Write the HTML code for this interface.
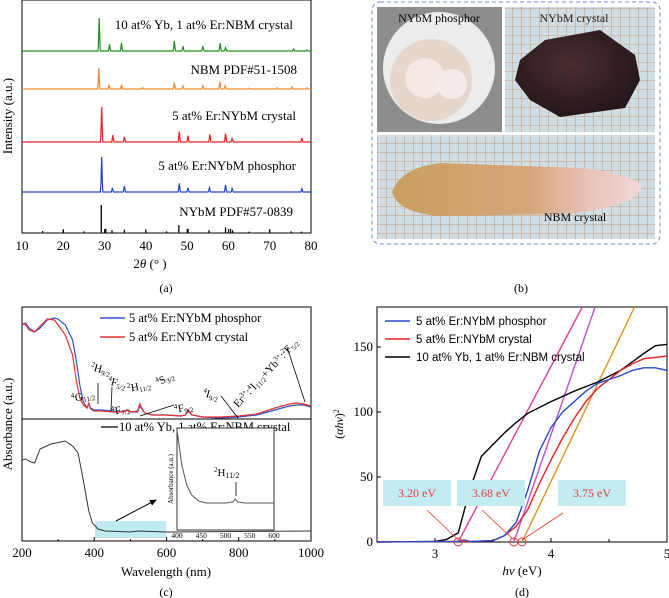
<!DOCTYPE html>
<html><head><meta charset="utf-8">
<style>
body{margin:0;background:#fff;}
svg{display:block;font-family:"Liberation Serif",serif;}
</style></head>
<body>
<svg id="fig" width="669" height="598" viewBox="0 0 669 598" xmlns="http://www.w3.org/2000/svg">
<defs>
<pattern id="grid" width="9" height="9" patternUnits="userSpaceOnUse">
<rect width="9" height="9" fill="#cfdde4"/>
<path d="M9 0V9M0 9H9" stroke="#c9855e" stroke-width="0.8"/>
</pattern>
<radialGradient id="rock" cx="45%" cy="40%" r="60%"><stop offset="0" stop-color="#4a2e30"/><stop offset="1" stop-color="#25161a"/></radialGradient>
<linearGradient id="boule" x1="0" y1="0" x2="1" y2="0"><stop offset="0" stop-color="#c9a060"/><stop offset="0.55" stop-color="#d6a67a"/><stop offset="0.8" stop-color="#e9c4bb"/><stop offset="1" stop-color="#f1d8d6"/></linearGradient>
<marker id="arr" markerWidth="8" markerHeight="8" refX="6" refY="3" orient="auto"><path d="M0,0L7,3L0,6Z" fill="#000"/></marker>
</defs>
<g id="pa"></g>
<g id="pb">
 <rect x="372" y="2" width="288" height="242" rx="8" fill="none" stroke="#6f8fd6" stroke-dasharray="4,3" stroke-width="1"/>
 <rect x="377" y="7" width="125" height="125" fill="#8d8d8d"/>
 <circle cx="439" cy="68" r="56" fill="#ececec"/>
 <circle cx="431" cy="80" r="41" fill="#e6d6cc"/>
 <circle cx="425" cy="78" r="20" fill="#f3e8e4"/>
 <circle cx="452" cy="84" r="15" fill="#f4ebe8"/>
 <rect x="505" y="7" width="150" height="125" fill="url(#grid)"/>
 <path d="M520,60 L545,40 L600,30 L635,55 L640,80 L625,108 L560,117 L530,100 L515,80Z" fill="url(#rock)"/>
 <rect x="377" y="135" width="278" height="104" fill="url(#grid)"/>
 <path d="M392,192 Q400,168 440,163 L580,168 Q620,172 640,183 Q645,190 630,200 Q600,212 560,214 L440,216 Q398,213 392,192Z" fill="url(#boule)"/>
 <text x="439" y="22" font-size="12" text-anchor="middle">NYbM phosphor</text>
 <text x="574" y="22" font-size="12" text-anchor="middle" fill="#222">NYbM crystal</text>
 <text x="575" y="221" font-size="12" text-anchor="middle">NBM crystal</text>
 <text x="521" y="292" font-size="12" text-anchor="middle">(b)</text>
</g>
<g id="pc"></g>
<g id="pd"></g>
</svg>
<script>
// ---------- Panel (a) data ----------
const xrdGreenPos=[28.7,31.2,34.1,46.9,49.0,53.8,58.0,59.3,75.8,79];
const xrdGreenInt=[1,0.2,0.25,0.3,0.15,0.15,0.24,0.1,0.06,0.03];
const xrdOrangePos=[28.6,31.1,34.1,39.2,46.9,49,53.8,57.9,59.2,64.8,71.8,75.4,79];
const xrdOrangeInt=[1,0.2,0.2,0.06,0.3,0.15,0.15,0.35,0.15,0.05,0.06,0.1,0.06];
const xrdRedPos=[29.3,32.0,34.8,48.1,50.2,55.5,59.3,60.9,77.8];
const xrdRedInt=[1,0.2,0.15,0.3,0.18,0.22,0.24,0.1,0.12];
const xrdBluePos=[29.3,31.9,34.8,48.1,50.2,55.4,59.3,60.9,77.8];
const xrdBlueInt=[1,0.12,0.17,0.25,0.12,0.12,0.2,0.1,0.1];
const pdfStickPos=[15,20,25,29.2,30.3,31.8,34.8,40,45,48,50.2,55.3,59.3,60.5,61,65,70,75.2,77.7];
const pdfStickInt=[0.07,0.1,0.06,1,0.15,0.1,0.12,0.08,0.06,0.28,0.15,0.1,0.2,0.15,0.1,0.05,0.1,0.06,0.05];
const aTicks=[10,20,30,40,50,60,70,80];
// ---------- Panel (c) data ----------
const wl=[200,210,220,235,250,270,290,300,320,340,350,360,370,380,385,390,400,420,450,480,490,500,520,526,530,540,560,600,640,652,660,670,700,750,800,850,900,940,960,980,1000];
const absBlue=[95,97,92,88,92,100,102,101,95,80,60,35,18,12,16,12,10,10,9,8,10,8,8,14,12,7,5,5,4,5,9,5,3,2,3,5,10,14,15,15,13];
const absRed=[97,95,90,88,94,101,100,95,85,65,40,22,15,12,17,11,9,9,8,8,10,8,9,16,13,7,5,5,4,5,10,5,3,3,4,6,12,16,17,16,14];
const wlBlack=[200,210,225,235,250,280,320,340,355,365,375,385,395,410,430,500,520,600,1000];
const absBlack=[81,82,79,78,92,97,100,95,88,70,50,30,18,12,10,9,10,9,10];
const insetWl=[400,410,420,430,445,460,500,515,520,525,540,600];
const insetAbs=[100,65,45,35,29,27,27,28,31,28,27,27];
const cTicks=[200,400,600,800,1000];
const insetTicks=[400,450,500,550,600];
// ---------- Panel (d) data ----------
const evBlack=[2.5,3.0,3.1,3.2,3.3,3.4,3.5,3.6,3.7,3.8,4.0,4.2,4.4,4.6,4.8,4.9,5.0];
const tBlack=[0,0.5,2,7,40,66,75,84,92,99,108,116,123,132,145,151,152];
const evBlue=[2.5,3.2,3.25,3.3,3.5,3.6,3.7,3.8,3.9,4.0,4.1,4.2,4.3,4.4,4.5,4.6,4.7,4.8,4.9,5.0];
const tBlue=[0,0.5,1.5,0.5,1,5,15,40,70,88,100,108,116,122,125,128,132,134,134,132];
const evRed=[2.5,3.3,3.5,3.6,3.7,3.8,3.9,4.0,4.1,4.2,4.3,4.4,4.5,4.6,4.7,4.8,4.9,5.0];
const tRed=[0,0.5,1,5,12,25,45,63,80,95,108,118,125,132,137,141,142,143];
const gaps=[3.20,3.68,3.75];
const gapLabels=["3.20 eV","3.68 eV","3.75 eV"];
const tangentTopEv=[4.27,4.38,4.72];
const dXTicks=[3,4,5];
const dYTicks=[0,50,100,150];

const NS="http://www.w3.org/2000/svg";
function mk(parent,tag,attrs,txt){const e=document.createElementNS(NS,tag);for(const k in attrs)e.setAttribute(k,attrs[k]);if(txt!==undefined)e.textContent=txt;parent.appendChild(e);return e;}
function pts(xs,ys,fx,fy){return xs.map((x,i)=>fx(x).toFixed(1)+","+fy(ys[i]).toFixed(1)).join(" ");}

// ===== Panel A =====
const pa=document.getElementById('pa');
const ax=v=>22+(v-10)*(311-22)/70;
mk(pa,'rect',{x:22,y:0,width:289,height:233,fill:'none',stroke:'#000','stroke-width':1});
function xrd(pos,int,base,h,col,name){
  let d=[];
  for(let t=10;t<=80;t+=0.1){let v=0;pos.forEach((p,i)=>{const w=Math.max(0,1-Math.abs(t-p)/0.25);v+=int[i]*w;});d.push(ax(t).toFixed(1)+","+(base-v*h).toFixed(1));}
  const e=mk(pa,'polyline',{points:d.join(" "),fill:'none',stroke:col,'stroke-width':1.2});
  
  
}
xrd(xrdGreenPos,xrdGreenInt,51,33,'#1f8f1f','xrd-nbm-crystal');
xrd(xrdOrangePos,xrdOrangeInt,89,21,'#f08a3a','xrd-nbm-pdf');
xrd(xrdRedPos,xrdRedInt,142,35,'#e82020','xrd-nybm-crystal');
xrd(xrdBluePos,xrdBlueInt,192,35,'#2040c8','xrd-nybm-phosphor');
pdfStickPos.forEach((p,i)=>{const l=mk(pa,'line',{x1:ax(p),x2:ax(p),y1:233,y2:233-pdfStickInt[i]*28,stroke:'#000','stroke-width':1.3});
 
 });
aTicks.forEach(t=>{mk(pa,'line',{x1:ax(t),x2:ax(t),y1:233,y2:229,stroke:'#000'});
 const tx=mk(pa,'text',{x:ax(t),y:250,'font-size':13,'text-anchor':'middle'},t);
 
 });
[["10 at% Yb, 1 at% Er:NBM crystal",29,293],["NBM PDF#51-1508",74,297],["5 at% Er:NYbM crystal",120,296],["5 at% Er:NYbM phosphor",170,296],["NYbM PDF#57-0839",216,293]].forEach(a=>{
 const tx=mk(pa,'text',{x:a[2],y:a[1],'font-size':13,'text-anchor':'end'},a[0]);
 
 });
mk(pa,'text',{x:12,y:116,'font-size':13,'text-anchor':'middle',transform:'rotate(-90 12 116)',},'Intensity (a.u.)');
const at=mk(pa,'text',{x:150,y:268,'font-size':13,'text-anchor':'middle',});
at.innerHTML='2<tspan font-style="italic">θ</tspan> (° )';
mk(pa,'text',{x:166,y:292,'font-size':12,'text-anchor':'middle',},'(a)');

// ===== Panel C =====
const pc=document.getElementById('pc');
const cx=v=>22+(v-200)*(311-22)/800;
mk(pc,'rect',{x:22,y:307,width:289,height:234,fill:'none',stroke:'#000'});
mk(pc,'line',{x1:22,x2:311,y1:419,y2:419,stroke:'#000',});
mk(pc,'rect',{x:95,y:521,width:71,height:17,fill:'#bfeaf0',});
let e;
e=mk(pc,'polyline',{points:pts(wl,absBlue,cx,v=>420-v),fill:'none',stroke:'#3050d0','stroke-width':1.2});


e=mk(pc,'polyline',{points:pts(wl,absRed,cx,v=>420-v),fill:'none',stroke:'#e83030','stroke-width':1.2});


e=mk(pc,'polyline',{points:pts(wlBlack,absBlack,cx,v=>541-v),fill:'none',stroke:'#333','stroke-width':1});


cTicks.forEach(t=>{mk(pc,'line',{x1:cx(t),x2:cx(t),y1:541,y2:537,stroke:'#000'});
 const tx=mk(pc,'text',{x:cx(t),y:557,'font-size':13,'text-anchor':'middle'},t);
 
 });
[300,500,700,900].forEach(t=>mk(pc,'line',{x1:cx(t),x2:cx(t),y1:541,y2:539,stroke:'#000'}));
mk(pc,'text',{x:166,y:576,'font-size':13,'text-anchor':'middle',},'Wavelength (nm)');
mk(pc,'text',{x:166,y:596,'font-size':12,'text-anchor':'middle',},'(c)');
mk(pc,'text',{x:12,y:424,'font-size':13,'text-anchor':'middle',transform:'rotate(-90 12 424)',},'Absorbance (a.u.)');
// legends
mk(pc,'line',{x1:100,x2:125,y1:318,y2:318,stroke:'#3050d0','stroke-width':1.5});
mk(pc,'text',{x:129,y:322,'font-size':12.5,},'5 at% Er:NYbM phosphor');
mk(pc,'line',{x1:100,x2:125,y1:337,y2:337,stroke:'#e83030','stroke-width':1.5});
mk(pc,'text',{x:129,y:341,'font-size':12.5,},'5 at% Er:NYbM crystal');
mk(pc,'line',{x1:101,x2:118,y1:427,y2:427,stroke:'#000','stroke-width':1.2});
mk(pc,'text',{x:119,y:431,'font-size':12.5,},'10 at% Yb, 1 at% Er:NBM crystal');
// annotations
function ann(x,y,html,rot,name){const t=mk(pc,'text',{x:x,y:y,'font-size':11,transform:rot?`rotate(${rot} ${x} ${y})`:''});t.innerHTML=html;
 
 }
const sup=s=>`<tspan dy="-4" font-size="7">${s}</tspan><tspan dy="4">`;
ann(72,402,sup('4')+'G</tspan><tspan font-size="7" dy="2">11/2</tspan>',-10,'ann-4g112');
ann(90,370,sup('2')+'H</tspan><tspan font-size="7" dy="2">9/2</tspan>',15,'ann-2h92');
ann(107,384,sup('4')+'F</tspan><tspan font-size="7" dy="2">5/2</tspan>',15,'ann-4f52');
ann(112,415,sup('4')+'F</tspan><tspan font-size="7" dy="2">7/2</tspan>',-10,'ann-4f72');
ann(128,392,sup('2')+'H</tspan><tspan font-size="7" dy="2">11/2</tspan>',-10,'ann-2h112');
ann(158,386,sup('4')+'S</tspan><tspan font-size="7" dy="2">3/2</tspan>',-25,'ann-4s32');
ann(175,413,sup('4')+'F</tspan><tspan font-size="7" dy="2">9/2</tspan>',-10,'ann-4f92');
ann(202,396,sup('4')+'I</tspan><tspan font-size="7" dy="2">9/2</tspan>',15,'ann-4i92');
ann(238,408,'Er'+sup('3+')+':</tspan>'+sup('4')+'I</tspan><tspan font-size="7" dy="2">11/2</tspan><tspan dy="-2">+Yb</tspan><tspan dy="-4" font-size="7">3+</tspan><tspan dy="4">:</tspan>'+sup('2')+'F</tspan><tspan font-size="7" dy="2">5/2</tspan>',-47,'ann-er-yb');
[[98,383,98,404],[112,387,111,411],[174,405,140,416],[221,396,238,418],[287,347,305,402]].forEach(l=>mk(pc,'line',{x1:l[0],y1:l[1],x2:l[2],y2:l[3],stroke:'#000','stroke-width':0.8}));
mk(pc,'line',{x1:116,y1:521,x2:156,y2:500,stroke:'#000','stroke-width':1,'marker-end':'url(#arr)',});
// inset
const ix=v=>177+(v-400)*(274-177)/200;
mk(pc,'rect',{x:177,y:428,width:97,height:102,fill:'#fff',stroke:'#000','stroke-width':0.8,});
e=mk(pc,'polyline',{points:pts(insetWl,insetAbs,ix,v=>530-v),fill:'none',stroke:'#555','stroke-width':1});


insetTicks.forEach(t=>{mk(pc,'text',{x:ix(t),y:538,'font-size':7.5,'text-anchor':'middle'},t);});
mk(pc,'text',{x:173,y:479,'font-size':7,'text-anchor':'middle',transform:'rotate(-90 173 479)'},'Absorbance (a.u.)');
ann(214,476,sup('2')+'H</tspan><tspan font-size="8" dy="2">11/2</tspan>',0,'inset-ann');
mk(pc,'line',{x1:236,y1:482,x2:236,y2:496,stroke:'#000','stroke-width':0.8});

// ===== Panel D =====
const pd=document.getElementById('pd');
const dx=v=>377+(v-2.5)*116;
const dy=v=>542-v*1.3;
mk(pd,'rect',{x:377,y:307,width:290,height:235,fill:'none',stroke:'#000'});
dXTicks.forEach(t=>{mk(pd,'line',{x1:dx(t),x2:dx(t),y1:542,y2:538,stroke:'#000'});
 const tx=mk(pd,'text',{x:dx(t),y:558,'font-size':13,'text-anchor':'middle'},t);
 
 });
[3.5,4.5].forEach(t=>mk(pd,'line',{x1:dx(t),x2:dx(t),y1:542,y2:539,stroke:'#000'}));
dYTicks.forEach(t=>{mk(pd,'line',{x1:377,x2:381,y1:dy(t),y2:dy(t),stroke:'#000'});
 const tx=mk(pd,'text',{x:373,y:dy(t)+4,'font-size':13,'text-anchor':'end'},t);
 
 });
const tcols=['#e0409a','#c050d0','#e0941c'];
gaps.forEach((g,i)=>{const l=mk(pd,'line',{x1:dx(g),y1:dy(0),x2:dx(tangentTopEv[i]),y2:307,stroke:tcols[i],'stroke-width':1.4});
 
 });
[[evBlack,tBlack,'#000','tauc-nbm-crystal'],[evRed,tRed,'#e82020','tauc-nybm-crystal'],[evBlue,tBlue,'#2a48c8','tauc-nybm-phosphor']].forEach(s=>{
 const p=mk(pd,'polyline',{points:pts(s[0],s[1],dx,dy),fill:'none',stroke:s[2],'stroke-width':1.4});
 
 });
const boxX=[383,457,558], lineFrom=[[427,510],[482,510],[563,513]];
gaps.forEach((g,i)=>{
 mk(pd,'rect',{x:boxX[i],y:480,width:68,height:26,fill:'#c2ecf2'});
 const tx=mk(pd,'text',{x:boxX[i]+34,y:497,'font-size':12,'text-anchor':'middle',fill:'#e83a3a'},gapLabels[i]);
 
 
 mk(pd,'line',{x1:lineFrom[i][0],y1:lineFrom[i][1],x2:dx(g),y2:dy(0)-2,stroke:'#e83a3a','stroke-width':0.8});
 const c=mk(pd,'circle',{cx:dx(g),cy:dy(0),r:4,fill:'none',stroke:'#e83a3a','stroke-width':1});
 
 
});
[['5 at% Er:NYbM phosphor','#2a48c8',321],['5 at% Er:NYbM crystal','#e82020',339],['10 at% Yb, 1 at% Er:NBM crystal','#000',357]].forEach(l=>{
 mk(pd,'line',{x1:385,x2:410,y1:l[2],y2:l[2],stroke:l[1],'stroke-width':1.5});
 const tx=mk(pd,'text',{x:416,y:l[2]+4,'font-size':11.5,'font-family':'Liberation Sans, sans-serif'},l[0]);
 
 });
const yt=mk(pd,'text',{x:343,y:424,'font-size':12,'text-anchor':'middle',transform:'rotate(-90 343 424)',});
yt.innerHTML='(<tspan font-style="italic">αhν</tspan>)<tspan dy="-4" font-size="8">2</tspan>';
const xt=mk(pd,'text',{x:522,y:575,'font-size':13,'text-anchor':'middle',});
xt.innerHTML='<tspan font-style="italic">hν</tspan> (eV)';
mk(pd,'text',{x:522,y:596,'font-size':12,'text-anchor':'middle',},'(d)');
</script>
</body></html>
